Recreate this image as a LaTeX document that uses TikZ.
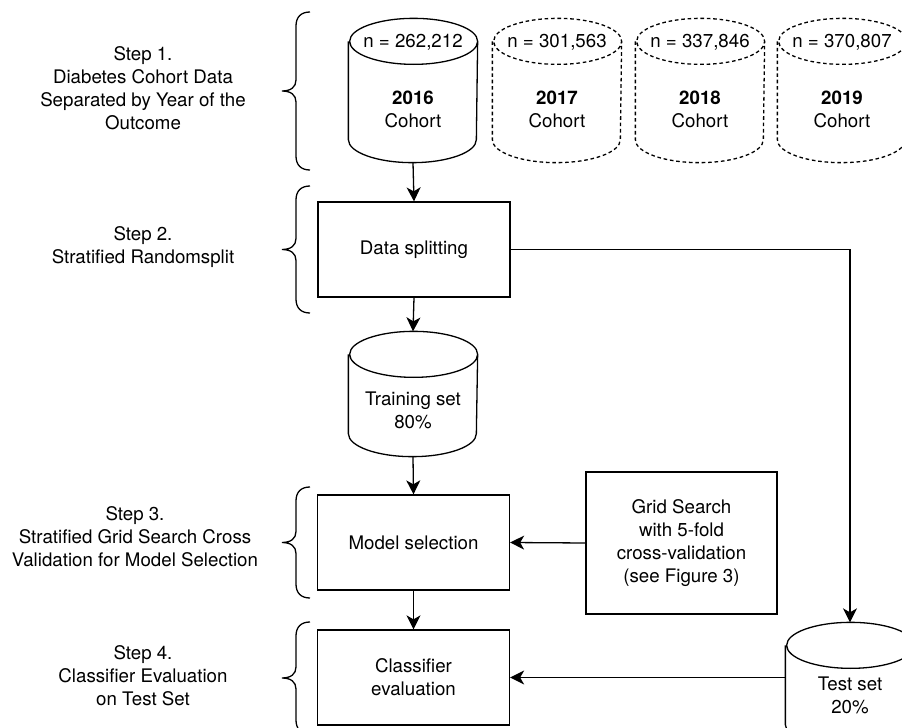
\documentclass[tikz,border=0pt]{standalone}
\usepackage{fontspec}
\setmainfont{TeX Gyre Heros}
\usetikzlibrary{positioning, arrows.meta}
\newcommand{\dbry}{11.5pt}
\newcommand{\stepbrace}[2]{%
  \draw[curly] (310,#1) .. controls (301,#1) and (296,{#1+5}) .. (296,{#1+14})
    -- (296,{(#1+#2)/2-11}) .. controls (296,{(#1+#2)/2-4}) and (291,{(#1+#2)/2}) .. (282,{(#1+#2)/2})
    .. controls (291,{(#1+#2)/2}) and (296,{(#1+#2)/2+4}) .. (296,{(#1+#2)/2+11})
    -- (296,{#2-14}) .. controls (296,{#2-5}) and (301,#2) .. (310,#2);}
\newcommand{\dbcyl}[2][]{%
  \draw[#1] ([yshift=-\dbry]#2.north west) -- ([yshift=\dbry]#2.south west)
    arc[start angle=180, end angle=360, x radius=32pt, y radius=\dbry]
    -- ([yshift=-\dbry]#2.north east)
    arc[start angle=0, end angle=180, x radius=32pt, y radius=\dbry]
    arc[start angle=180, end angle=360, x radius=32pt, y radius=\dbry];}
\tikzset{
  box/.style={draw, minimum width=96pt, minimum height=47.5pt, align=center},
  db/.style={minimum width=64pt, inner sep=0pt},
  cohortdb/.style={db, minimum height=71.5pt},
  splitdb/.style={db, minimum height=62pt},
  future/.style={dash pattern=on 1.8pt off 1.4pt},
  celltext/.style={align=center, inner sep=0pt},
  steptext/.style={align=center},
  curly/.style={line width=0.65pt},
  flow/.style={-{Stealth[length=7pt, width=7pt, inset=2pt]}},
}

\begin{document}
\begin{tikzpicture}[x=0.5pt, y=-0.5pt, line width=0.65pt,
    font=\fontsize{9.35}{11.5}\selectfont]
    \useasboundingbox (0,0) rectangle (902,728);

    % cohorts by year
    \node[cohortdb] (c2016) at (413,90.5) {};
    \node[cohortdb] (c2017) at (557,90.5) {};
    \node[cohortdb] (c2018) at (700,90.5) {};
    \node[cohortdb] (c2019) at (842,90.5) {};
    \dbcyl{c2016}
    \dbcyl[future]{c2017}
    \dbcyl[future]{c2018}
    \dbcyl[future]{c2019}
    \node[celltext] (n2016) at (413,42) {n = 262,212};
    \node[celltext] (n2017) at (557,42) {n = 301,563};
    \node[celltext] (n2018) at (700,42) {n = 337,846};
    \node[celltext] (n2019) at (842,42) {n = 370,807};
    \node[celltext] (y2016) at (413,109.5) {\textbf{2016}\\Cohort};
    \node[celltext] (y2017) at (557,109.5) {\textbf{2017}\\Cohort};
    \node[celltext] (y2018) at (700,109.5) {\textbf{2018}\\Cohort};
    \node[celltext] (y2019) at (842,109.5) {\textbf{2019}\\Cohort};

    % pipeline
    \node[box] (split) at (414,249.5) {Data splitting};
    \node[splitdb] (train) at (413,394) {};
    \dbcyl{train}
    \node[celltext] (traintext) at (413,410.5) {Training set\\80\%};
    \node[box] (select) at (413.5,542.5) {Model selection};
    \node[box] (eval) at (413.5,677.5) {Classifier\\evaluation};
    \node[box, minimum width=95.5pt, minimum height=71pt] (grid) at (681.5,543)
      {Grid Search\\with 5-fold\\cross-validation\\(see Figure 3)};
    \node[splitdb] (test) at (850,685) {};
    \dbcyl{test}
    \node[celltext] (testtext) at (850,695.5) {Test set\\20\%};

    \draw[flow] (c2016.south) -- (split.north);
    \draw[flow] (split.south) -- (train.north);
    \draw[flow] (train.south) -- (select.north);
    \draw[flow] (select.south) -- (eval.north);
    \draw[flow] (grid.west) -- (select.east);
    \draw[flow] (split.east) -| (test.north);
    \draw[flow] (test.west |- eval.east) -- (eval.east);

    % steps
    \node[steptext] (step1) at (143,88.5)
      {Step 1.\\Diabetes Cohort Data\\Separated by Year of the\\Outcome};
    \node[steptext] (step2) at (143,247) {Step 2.\\Stratified Randomsplit};
    \node[steptext] (step3) at (135,537)
      {Step 3.\\Stratified Grid Search Cross\\Validation for Model Selection};
    \node[steptext] (step4) at (143,676)
      {Step 4.\\Classifier Evaluation\\on Test Set};
    \stepbrace{12}{170}
    \stepbrace{186}{313}
    \stepbrace{487}{598}
    \stepbrace{622}{734}
\end{tikzpicture}
\end{document}
